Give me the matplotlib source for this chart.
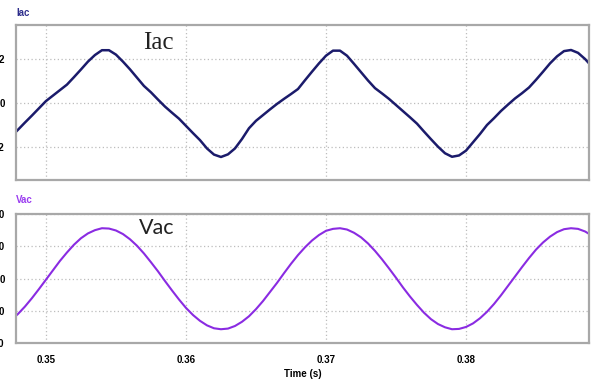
import matplotlib
matplotlib.use("Agg")
import matplotlib.pyplot as plt

# time samples (s)
time_s = [0.3475 + 0.0005 * k for k in range(84)]

# Iac samples
iac = [-1.55, -1.23, -0.90, -0.58, -0.25, 0.08, 0.33, 0.58, 0.83, 1.17,
       1.52, 1.88, 2.18, 2.40, 2.40, 2.20, 1.88, 1.53, 1.15, 0.77,
       0.48, 0.15, -0.17, -0.45, -0.72, -1.05, -1.38, -1.70, -2.08, -2.36,
       -2.47, -2.35, -2.08, -1.65, -1.16, -0.82, -0.56, -0.30, -0.05, 0.18,
       0.40, 0.63, 1.03, 1.42, 1.80, 2.15, 2.38, 2.38, 2.15, 1.78,
       1.40, 1.02, 0.67, 0.43, 0.18, -0.10, -0.38, -0.66, -0.95, -1.31,
       -1.66, -2.00, -2.30, -2.46, -2.40, -2.18, -1.80, -1.42, -1.01, -0.70,
       -0.37, -0.08, 0.20, 0.44, 0.70, 1.05, 1.42, 1.80, 2.12, 2.36,
       2.41, 2.28, 2.00, 1.65]

# Vac samples
vac = [-128, -109, -86, -60, -32, -3, 26, 55, 81, 105,
       125, 140, 150, 156, 155, 149, 138, 122, 102, 78,
       51, 23, -7, -36, -64, -90, -112, -130, -144, -153,
       -156, -154, -146, -133, -116, -94, -69, -41, -13, 17,
       46, 73, 97, 118, 135, 148, 154, 156, 152, 142,
       128, 109, 86, 60, 32, 3, -27, -55, -81, -105,
       -125, -140, -150, -156, -155, -149, -138, -122, -102, -78,
       -51, -22, 7, 36, 64, 90, 112, 130, 144, 153,
       156, 154, 146, 133]

x_ticks = [0.35, 0.36, 0.37, 0.38]
x_tick_labels = ["0.35", "0.36", "0.37", "0.38"]
iac_ticks = [-2, 0, 2]
vac_ticks = [-200, -100, 0, 100, 200]

fig = plt.figure(figsize=(5.92, 3.80), dpi=100)
ax1 = fig.add_axes([0.0265, 0.5263, 0.9686, 0.4079])
ax2 = fig.add_axes([0.0265, 0.0961, 0.9686, 0.3408])

xlim = (0.34784, 0.38879)
lab_font = dict(family="Liberation Sans", weight="bold", size=7)

for ax, ylim, yt in [(ax1, (-3.52, 3.55), iac_ticks), (ax2, (-200, 200), vac_ticks)]:
    ax.set_xlim(*xlim)
    ax.set_ylim(*ylim)
    ax.set_xticks(x_ticks)
    ax.set_yticks(yt)
    ax.set_yticklabels([str(v) for v in yt], fontdict=lab_font)
    ax.grid(True, linestyle=(0, (1, 2)), color="#bdbdbd", linewidth=0.9)
    ax.tick_params(length=0)
    ax.tick_params(axis="y", pad=8)
    for s in ax.spines.values():
        s.set_color("#a8a8a8")
        s.set_linewidth(1.6)
    ax.set_axisbelow(True)

ax1.set_xticklabels([])
ax2.set_xticklabels(x_tick_labels, fontdict=lab_font)
ax2.tick_params(axis="x", pad=8)

ax1.plot(time_s, iac, color="#1b1b6b", linewidth=1.8)
ax2.plot(time_s, vac, color="#8a2be2", linewidth=1.5)

ax2.set_xlabel("Time (s)", fontdict=lab_font, labelpad=3)

fig.text(16 / 592, 1 - 13 / 380, "Iac", color="#2e2e8c", fontsize=7,
         family="Liberation Sans", weight="bold", va="center", ha="left")
fig.text(16 / 592, 1 - 200 / 380, "Vac", color="#9a3cf0", fontsize=7,
         family="Liberation Sans", weight="bold", va="center", ha="left")

fig.text(158 / 592, 1 - 43 / 380, "Iac", color="#222222", fontsize=18,
         family="Liberation Serif", va="center", ha="center")
fig.text(157 / 592, 1 - 228 / 380, "Vac", color="#222222", fontsize=15.5,
         family="Lato", va="center", ha="center")

fig.savefig("out.png", dpi=100)
